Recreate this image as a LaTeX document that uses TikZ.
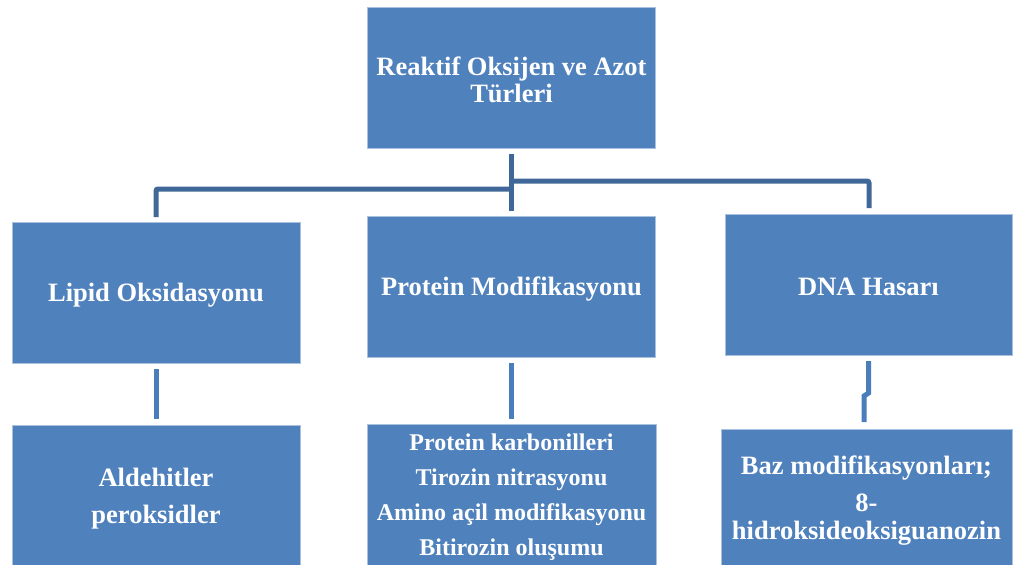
\documentclass[tikz,border=0pt]{standalone}
\usepackage{fontspec}
\setmainfont{Liberation Serif}
\definecolor{boxfill}{HTML}{4F81BD}
\definecolor{boxedge}{HTML}{A9C0DE}
\definecolor{treeline}{HTML}{3F6797}
\definecolor{lowline}{HTML}{4A7EBB}
\tikzset{
  box/.style={rectangle, fill=boxfill, draw=boxedge, line width=0.8pt, inner sep=0pt},
  boxtext/.style={text=white, font=\bfseries\fontsize{26.5}{27.5}\selectfont, align=center, inner sep=0pt, yshift=-2.5pt},
  tree/.style={draw=treeline, line width=5pt},
  low/.style={draw=lowline, line width=5pt},
}
\begin{document}
\begin{tikzpicture}[x=1pt,y=-1pt]
\useasboundingbox (0,0) rectangle (1013,565);
% boxes
\node[box, minimum width=288, minimum height=141] (top) at (511.5,77.5) {};
\node[box, minimum width=288, minimum height=141] (lipid) at (156,292.5) {};
\node[box, minimum width=288, minimum height=141] (prot) at (511.5,286.5) {};
\node[box, minimum width=287, minimum height=141] (dna) at (868.5,285) {};
\node[box, minimum width=288, minimum height=142] (ald) at (156,496) {};
\node[box, minimum width=289, minimum height=142] (pk) at (511.5,495) {};
\node[box, minimum width=291, minimum height=138] (baz) at (866.5,498) {};
% texts
\node[boxtext] (toptext) at (top.center) {Reaktif Oksijen ve Azot\\Türleri};
\node[boxtext] (lipidtext) at (lipid.center) {Lipid Oksidasyonu};
\node[boxtext] (prottext) at (prot.center) {Protein Modifikasyonu};
\node[boxtext, yshift=1pt] (dnatext) at (dna.center) {DNA Hasarı};
\node[boxtext] (aldtext) at (ald.center) {Aldehitler\\[10pt]peroksidler};
\node[boxtext, font=\bfseries\fontsize{24}{35}\selectfont] (pktext) at (pk.center) {Protein karbonilleri\\Tirozin nitrasyonu\\Amino açil modifikasyonu\\Bitirozin oluşumu};
\node[boxtext] (baztext) at (baz.center) {Baz modifikasyonları;\\[10pt]8-\\hidroksideoksiguanozin};
% tree connectors
\coordinate (t0) at (top.south |- 0,154);
\coordinate (tj) at (top.south |- 0,211);
\draw[tree] (t0) -- (tj);
\draw[tree, rounded corners=2pt] (top.south |- 0,189) -- (lipid.north |- 0,189) -- (lipid.north |- 0,217);
\draw[tree, rounded corners=2pt] (top.south |- 0,181) -- (869,181) -- (869,208);
% lower connectors
\draw[low] (lipid.south |- 0,369) -- (lipid.south |- 0,419);
\draw[low] (prot.south |- 0,363) -- (prot.south |- 0,419);
\coordinate (d1) at (868.5,361);
\coordinate (d2) at (868.5,393);
\coordinate (d3) at (864,396);
\coordinate (d4) at (864,422);
\draw[low] (d1) -- (d2) -- (d3) -- (d4);
\end{tikzpicture}
\end{document}
